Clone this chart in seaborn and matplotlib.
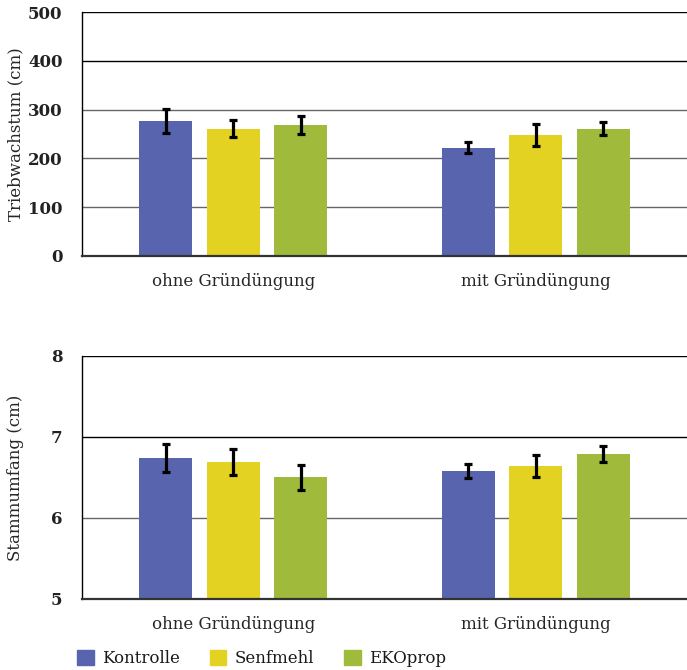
import numpy as np
import pandas as pd
import matplotlib
matplotlib.use('Agg')
import matplotlib.pyplot as plt
import seaborn as sns

# Werte
gruppen = ['ohne Gründüngung', 'mit Gründüngung']
varianten = ['Kontrolle', 'Senfmehl', 'EKOprop']
farben = ['#5865ae', '#e3d221', '#a0bb3c']

trieb_mittel = {'Kontrolle': [277, 222], 'Senfmehl': [261, 248], 'EKOprop': [268, 261]}
trieb_fehler = {'Kontrolle': [25, 11], 'Senfmehl': [17, 22], 'EKOprop': [19, 14]}

stamm_mittel = {'Kontrolle': [6.74, 6.58], 'Senfmehl': [6.69, 6.64], 'EKOprop': [6.50, 6.79]}
stamm_fehler = {'Kontrolle': [0.17, 0.09], 'Senfmehl': [0.16, 0.13], 'EKOprop': [0.15, 0.10]}

sns.set_theme(style='white')
plt.rcParams['font.family'] = ['DejaVu Serif']
plt.rcParams['text.color'] = '#1a1a1a'


def to_df(mittel, fehler):
    rows = []
    for v in varianten:
        for i, g in enumerate(gruppen):
            rows.append({'gruppe': g, 'variante': v, 'wert': mittel[v][i], 'err': fehler[v][i]})
    return pd.DataFrame(rows)


def panel(ax, df, ylim, ticks, ylabel):
    sns.barplot(data=df, x='gruppe', y='wert', hue='variante', order=gruppen,
                hue_order=varianten, palette=farben, width=0.67, gap=0.215,
                errorbar=None, saturation=1, legend=False, linewidth=0, ax=ax)
    # Fehlerbalken an den Balkenpositionen
    for v, cont in zip(varianten, ax.containers):
        sub = df[df['variante'] == v].set_index('gruppe').loc[gruppen]
        xs = [p.get_x() + p.get_width() / 2 for p in cont.patches]
        ax.errorbar(xs, sub['wert'], yerr=sub['err'], fmt='none', ecolor='black',
                    elinewidth=2.3, capsize=2.6, capthick=2.3, zorder=5)
    ax.set_ylim(*ylim)
    ax.set_xlim(-0.5, 1.5)
    ax.set_yticks(ticks)
    ax.set_xlabel('')
    ax.set_ylabel(ylabel, fontsize=12)
    ax.yaxis.set_label_coords(-0.096, 0.5)
    ax.tick_params(axis='y', length=0, pad=14, labelsize=12)
    ax.tick_params(axis='x', length=0, pad=12, labelsize=12)
    for t in ax.get_yticklabels():
        t.set_fontweight('bold')
        t.set_color('#222222')
    ax.yaxis.grid(True, color='#666666', linewidth=1)
    ax.set_axisbelow(True)
    n = len(ticks)
    for i, line in enumerate(ax.get_ygridlines()):
        if i >= n - 2:
            line.set_color('black')
    for s in ['top', 'right']:
        ax.spines[s].set_visible(False)
    ax.spines['left'].set_color('black')
    ax.spines['left'].set_linewidth(1)
    ax.spines['bottom'].set_color('#333333')
    ax.spines['bottom'].set_linewidth(1.6)


fig = plt.figure(figsize=(6.87, 6.70), dpi=100)
ax1 = fig.add_axes([0.1194, 0.618, 0.8806, 0.364])
ax2 = fig.add_axes([0.1194, 0.106, 0.8806, 0.363])

panel(ax1, to_df(trieb_mittel, trieb_fehler), (0, 500), [0, 100, 200, 300, 400, 500],
      'Triebwachstum (cm)')
panel(ax2, to_df(stamm_mittel, stamm_fehler), (5, 8), [5, 6, 7, 8], 'Stammumfang (cm)')

handles = [plt.Rectangle((0, 0), 1, 1, color=c) for c in farben]
fig.legend(handles, varianten, loc='lower left', bbox_to_anchor=(0.112, 0.004), ncol=3,
           frameon=False, fontsize=12, handlelength=1.0, handleheight=1.0,
           handletextpad=0.5, columnspacing=1.8, borderpad=0, borderaxespad=0)

fig.savefig('out.png', dpi=100)
